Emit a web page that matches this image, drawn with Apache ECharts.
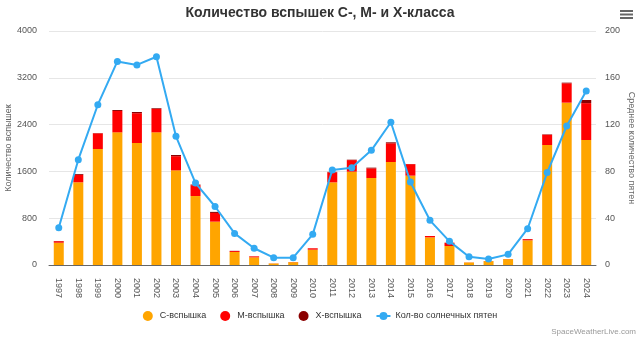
<!DOCTYPE html>
<html><head><meta charset="utf-8">
<script src="https://cdn.jsdelivr.net/npm/echarts@6/dist/echarts.min.js"></script>
<style>html,body{margin:0;padding:0;background:#fff}#c{width:640px;height:338px}</style>
</head><body><div id="c"></div>
<script>
var years = ['1997','1998','1999','2000','2001','2002','2003','2004','2005','2006','2007','2008','2009','2010','2011','2012','2013','2014','2015','2016','2017','2018','2019','2020','2021','2022','2023','2024'];
var cFlares = [381,1414,1983,2268,2085,2268,1618,1179,741,222,131,26,48,262,1413,1595,1487,1761,1527,473,325,43,66,100,422,2051,2775,2137];
var mFlares = [26,127,268,365,510,400,242,185,149,16,17,2,3,24,171,198,165,320,197,23,53,2,2,3,20,176,331,630];
var xFlares = [3,14,4,17,20,12,20,11,18,4,0,0,0,0,8,7,12,16,2,0,4,0,0,0,2,7,11,54];
var sunspots = [31.9,90,137,174,171,178,110,70,50,27,14.3,6.3,6.3,26.2,81.2,83.2,98,122,71,38.2,20.2,7.1,5.1,9.1,31,79,118.8,148.7];
var leftTicks = {min:0,max:4000,interval:800};
var rightTicks = {min:0,max:200,interval:40};

var font = 'Liberation Sans, Arial, sans-serif';
var chart = echarts.init(document.getElementById('c'), null, {renderer:'canvas'});
chart.setOption({
  animation:false,
  textStyle:{fontFamily:font},
  title:{text:'Количество вспышек C-, M- и X-класса',left:'center',top:1,
    textStyle:{fontSize:14,fontWeight:'bold',color:'#333',fontFamily:font}},
  grid:{left:49,right:44,top:31,bottom:73,containLabel:false,outerBoundsMode:'none'},
  legend:{bottom:12,left:'center',itemGap:14,itemWidth:14,itemHeight:10,
    textStyle:{fontSize:9,color:'#333',fontFamily:font},
    data:[{name:'C-вспышка',icon:'circle'},{name:'M-вспышка',icon:'circle'},{name:'X-вспышка',icon:'circle'},{name:'Кол-во солнечных пятен'}]},
  xAxis:{type:'category',data:years,boundaryGap:true,
    axisLine:{lineStyle:{color:'#666'}},axisTick:{show:false},
    axisLabel:{rotate:-90,fontSize:9,color:'#555',margin:13,interval:0,fontFamily:font}},
  yAxis:[
    {type:'value',min:leftTicks.min,max:leftTicks.max,interval:leftTicks.interval,
     name:'Количество вспышек',nameLocation:'middle',nameRotate:90,nameGap:36,nameMoveOverlap:false,
     nameTextStyle:{fontSize:9,color:'#666',fontFamily:font},
     axisLabel:{fontSize:9,color:'#555',margin:12,fontFamily:font,formatter:function(v){return String(v);}},
     splitLine:{lineStyle:{color:'#e6e6e6'}},axisLine:{show:false},axisTick:{show:false}},
    {type:'value',min:rightTicks.min,max:rightTicks.max,interval:rightTicks.interval,
     name:'Среднее количество пятен',nameLocation:'middle',nameRotate:-90,nameGap:31,nameMoveOverlap:false,
     nameTextStyle:{fontSize:9,color:'#666',fontFamily:font},
     axisLabel:{fontSize:9,color:'#555',margin:9,fontFamily:font,formatter:function(v){return String(v);}},
     splitLine:{show:false},axisLine:{show:false},axisTick:{show:false}}
  ],
  series:[
    {name:'C-вспышка',type:'bar',stack:'f',data:cFlares,barWidth:10,itemStyle:{color:'#FFA500'}},
    {name:'M-вспышка',type:'bar',stack:'f',data:mFlares,barWidth:10,itemStyle:{color:'#FF0000'}},
    {name:'X-вспышка',type:'bar',stack:'f',data:xFlares,barWidth:10,itemStyle:{color:'#8B0000'}},
    {name:'Кол-во солнечных пятен',type:'line',yAxisIndex:1,data:sunspots,symbol:'circle',symbolSize:7,
     lineStyle:{width:2,color:'#33AAF2'},itemStyle:{color:'#33AAF2'},z:5}
  ],
  graphic:[
    {type:'rect',shape:{x:620,y:10,width:13,height:2},style:{fill:'#666'}},
    {type:'rect',shape:{x:620,y:13.5,width:13,height:2},style:{fill:'#666'}},
    {type:'rect',shape:{x:620,y:17,width:13,height:2},style:{fill:'#666'}},
    {type:'text',right:4,bottom:2,style:{text:'SpaceWeatherLive.com',fontSize:8,fill:'#999',fontFamily:font}}
  ]
});
</script></body></html>
